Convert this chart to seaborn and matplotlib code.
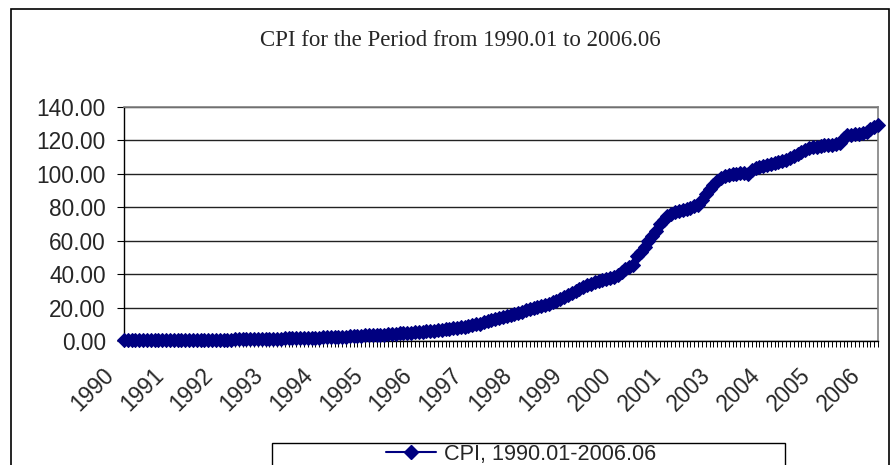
"""
CPI chart, 1990.01 - 2006.06 (monthly, Excel-style line with diamonds)
"""

import numpy as np
import pandas as pd
import matplotlib
matplotlib.use('Agg')
import matplotlib.pyplot as plt
import seaborn as sns
from matplotlib.patches import Rectangle
from matplotlib.lines import Line2D
from matplotlib.transforms import ScaledTranslation

# monthly CPI values, one list per year
cpi_1990 = [0.30, 0.32, 0.33, 0.35, 0.36, 0.37, 0.38, 0.39, 0.41, 0.43, 0.45, 0.47]
cpi_1991 = [0.49, 0.52, 0.54, 0.56, 0.58, 0.59, 0.60, 0.62, 0.65, 0.68, 0.71, 0.74]
cpi_1992 = [0.77, 0.80, 0.83, 0.86, 0.88, 0.90, 0.92, 0.94, 0.97, 1.00, 1.03, 1.06]
cpi_1993 = [1.10, 1.14, 1.18, 1.22, 1.26, 1.30, 1.55, 1.60, 1.65, 1.70, 1.75, 1.80]
cpi_1994 = [1.85, 1.90, 1.95, 2.05, 2.20, 2.30, 2.35, 2.40, 2.45, 2.50, 2.55, 2.80]
cpi_1995 = [3.00, 3.10, 3.20, 3.30, 3.40, 3.50, 3.60, 3.70, 3.80, 3.95, 4.10, 4.30]
cpi_1996 = [4.50, 4.65, 4.80, 4.95, 5.10, 5.30, 5.50, 5.70, 5.90, 6.10, 6.40, 6.70]
cpi_1997 = [7.00, 7.30, 7.60, 7.90, 8.20, 8.60, 9.00, 9.40, 9.90, 10.40, 11.20, 11.90]
cpi_1998 = [12.40, 12.90, 13.50, 14.10, 14.80, 15.60, 16.20, 16.90, 17.60, 18.30, 18.90, 19.60]
cpi_1999 = [20.20, 20.90, 21.60, 22.40, 23.10, 23.90, 25.00, 26.20, 27.50, 28.80, 30.00, 31.20]
cpi_2000 = [32.30, 33.30, 34.20, 35.00, 35.70, 36.40, 37.00, 37.50, 38.20, 39.50, 41.50, 43.00]
cpi_2001 = [44.00, 45.50, 51.00, 53.50, 56.50, 60.00, 63.00, 66.00, 70.00, 72.50, 74.50, 76.00]
cpi_2002 = [77.00, 77.80, 78.50, 79.20, 79.80, 80.60, 81.50, 84.50, 88.00, 91.00, 93.50, 96.00]
cpi_2003 = [97.50, 99.00, 99.60, 100.00, 100.20, 100.50, 100.30, 99.80, 102.50, 103.50, 104.20, 104.80]
cpi_2004 = [105.30, 105.80, 106.40, 107.00, 107.80, 108.30, 109.20, 110.50, 112.00, 113.30, 114.50, 115.20]
cpi_2005 = [115.80, 116.20, 116.60, 117.00, 117.40, 117.30, 117.80, 118.50, 121.50, 123.00, 123.50, 123.80]
cpi_2006 = [124.00, 124.50, 125.30, 126.80, 128.20, 129.50]

cpi = (cpi_1990 + cpi_1991 + cpi_1992 + cpi_1993 + cpi_1994 + cpi_1995 + cpi_1996
       + cpi_1997 + cpi_1998 + cpi_1999 + cpi_2000 + cpi_2001 + cpi_2002 + cpi_2003
       + cpi_2004 + cpi_2005 + cpi_2006)

months = pd.period_range('1990-01', '2006-06', freq='M').strftime('%Y.%m')
year_labels = ['1990', '1991', '1992', '1993', '1994', '1995', '1996', '1997',
               '1998', '1999', '2000', '2001', '2003', '2004', '2005', '2006']
label_step = 13

title = 'CPI for the Period from 1990.01 to 2006.06'
series_name = 'CPI, 1990.01-2006.06'
y_ticks = [0, 20, 40, 60, 80, 100, 120, 140]

df = pd.DataFrame({'month': months, 'pos': np.arange(len(months)), 'cpi': cpi})

navy = '#000080'
W, H = 893, 465

sns.set_style('white')
plt.rcParams['font.family'] = ['Liberation Sans', 'DejaVu Sans']

fig = plt.figure(figsize=(W / 100, H / 100), dpi=100)
ax = fig.add_axes([124 / W, 1 - 341 / H, (878 - 124) / W, (341 - 107) / H])

sns.lineplot(data=df, x='pos', y='cpi', ax=ax, color=navy, linewidth=2,
             marker='D', markersize=7, markeredgecolor=navy, markerfacecolor=navy,
             legend=False)
for ln in ax.lines:
    ln.set_clip_on(False)
    ln.set_zorder(5)

ax.set_xlim(0, len(df) - 1)
ax.set_ylim(0, 140)
ax.set_xlabel('')
ax.set_ylabel('')

# y axis
ax.set_yticks(y_ticks)
ax.set_yticklabels([f'{v:.2f}' for v in y_ticks], fontsize=16.3)
ax.yaxis.grid(True, color='#222222', linewidth=1.0)
ax.set_axisbelow(True)
ax.tick_params(axis='y', direction='out', length=5, width=0.8, pad=8, color='black', left=True)

# x axis: a tick for every month, a year label every 13 months
ax.set_xticks(df['pos'][::label_step])
ax.set_xticklabels(year_labels, fontsize=16.3, rotation=45, ha='right', va='top',
                   rotation_mode='anchor')
ax.set_xticks(df['pos'], minor=True)
ax.tick_params(axis='x', which='both', direction='out', length=4, width=0.7,
               color='black', bottom=True)
ax.tick_params(axis='x', which='major', pad=12.5)
shift = ScaledTranslation(-22 / 100, 0, fig.dpi_scale_trans)
for lab in ax.get_xticklabels():
    lab.set_transform(lab.get_transform() + shift)

for side in ['left', 'bottom']:
    ax.spines[side].set_color('black')
    ax.spines[side].set_linewidth(1.0)
for side in ['top', 'right']:
    ax.spines[side].set_visible(True)
    ax.spines[side].set_color('#808080')
    ax.spines[side].set_linewidth(1.2)

# title
fig.text(460 / W, 1 - 41 / H, title, ha='center', va='center',
         fontsize=16.5, family=['Liberation Serif', 'DejaVu Serif'])

# chart frame
fig.patches.append(Rectangle((11 / W, -0.05), (889 - 11) / W, 1.05 - 9 / H,
                             transform=fig.transFigure, fill=False,
                             edgecolor='black', linewidth=1.2))

# legend box and entry
fig.patches.append(Rectangle((272 / W, -0.05), (785 - 272) / W, 0.05 + 1 - 443 / H,
                             transform=fig.transFigure, fill=False,
                             edgecolor='black', linewidth=1.0))
handle = Line2D([0], [0], color=navy, linewidth=1.5, marker='D', markersize=7,
                markerfacecolor=navy, markeredgecolor=navy)
fig.legend([handle], [series_name], loc='center', bbox_to_anchor=(521 / W, 1 - 454 / H),
           frameon=False, fontsize=15.6, handlelength=2.3, handletextpad=0.35,
           borderpad=0, borderaxespad=0)

fig.savefig('out.png', dpi=100)
